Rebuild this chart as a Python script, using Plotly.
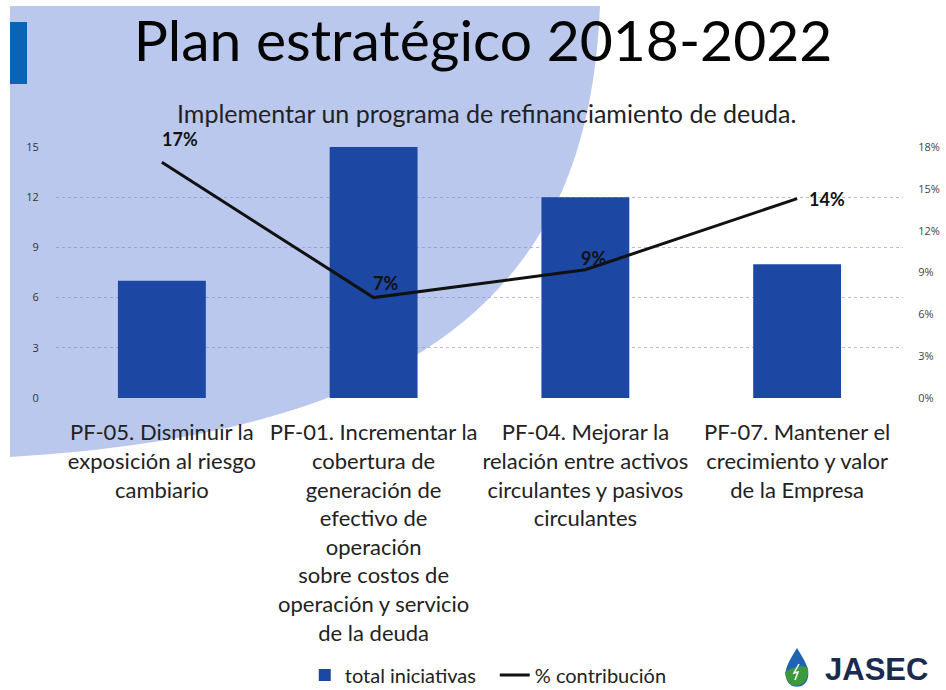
import plotly.graph_objects as go

categories = [
    "PF-05. Disminuir la<br>exposición al riesgo<br>cambiario",
    "PF-01. Incrementar la<br>cobertura de<br>generación de<br>efectivo de<br>operación<br>sobre costos de<br>operación y servicio<br>de la deuda",
    "PF-04. Mejorar la<br>relación entre activos<br>circulantes y pasivos<br>circulantes",
    "PF-07. Mantener el<br>crecimiento y valor<br>de la Empresa",
]
total_iniciativas = [7, 15, 12, 8]
pct_contribucion = [0.169, 0.072, 0.092, 0.143]
left_ticks = [0, 3, 6, 9, 12, 15]
right_ticks = [0, 0.03, 0.06, 0.09, 0.12, 0.15, 0.18]

TITLE = "Plan estratégico 2018-2022"
SUBTITLE = "Implementar un programa de refinanciamiento de deuda."

W, H = 946, 690
L, R, T, B = 56, 43, 147, 292
PW, PH = W - L - R, H - T - B

def px(x):
    return (x - L) / PW

def py(y):
    return (H - B - y) / PH

FONT = "Lato"
BAR_COLOR = "#1c47a3"
LAV = "#bbc8ee"

fig = go.Figure()
fig.add_trace(go.Bar(
    x=categories, y=total_iniciativas, name="total iniciativas",
    marker=dict(color=BAR_COLOR, line=dict(width=0)), yaxis="y",
))
fig.add_trace(go.Scatter(
    x=categories, y=pct_contribucion, name="% contribución", mode="lines",
    line=dict(color="#111111", width=3), yaxis="y2",
))

shifts = [(18, 23), (12, 15), (8, 12), (30, 0)]
for c, v, (dx, dy) in zip(categories, pct_contribucion, shifts):
    fig.add_annotation(
        x=c, y=v, xref="x", yref="y2", text=f"<b>{v:.0%}</b>", showarrow=False,
        xshift=dx, yshift=dy, font=dict(family=FONT, size=18, color="#111111"),
    )

# slide background decorations
bg_path = (f"M {px(10)},{py(6)} L {px(600)},{py(6)} "
           f"C {px(590)},{py(250)} {px(470)},{py(430)} {px(10)},{py(457)} Z")
shapes = [
    dict(type="path", path=bg_path, xref="paper", yref="paper",
         fillcolor=LAV, line=dict(width=0), layer="below"),
    dict(type="rect", x0=px(10), x1=px(27), y0=py(22), y1=py(84), xref="paper", yref="paper",
         fillcolor="#0b63b5", line=dict(width=0), layer="below"),
]
# logo drop
drop = (f"M {px(797)},{py(648)} C {px(790)},{py(660)} {px(784)},{py(668)} {px(786)},{py(677)} "
        f"C {px(788)},{py(690)} {px(806)},{py(690)} {px(808)},{py(677)} "
        f"C {px(810)},{py(668)} {px(804)},{py(660)} {px(797)},{py(648)} Z")
green = (f"M {px(785)},{py(672)} C {px(792)},{py(668)} {px(802)},{py(664)} {px(808)},{py(668)} "
         f"C {px(810)},{py(690)} {px(786)},{py(692)} {px(785)},{py(672)} Z")
bolt = (f"M {px(799)},{py(664)} L {px(794)},{py(673)} L {px(798)},{py(672)} L {px(795)},{py(680)}")
shapes += [
    dict(type="path", path=drop, xref="paper", yref="paper", fillcolor="#1f64b4", line=dict(width=0)),
    dict(type="path", path=green, xref="paper", yref="paper", fillcolor="#3c9a3c", line=dict(width=0)),
    dict(type="path", path=bolt, xref="paper", yref="paper", line=dict(color="white", width=1.5)),
]

fig.add_annotation(
    x=px(823), y=py(669), xref="paper", yref="paper", xanchor="left", yanchor="middle",
    text="<b>JASEC</b>", showarrow=False,
    font=dict(family="Liberation Sans", size=31, color="#1b2a4e"),
)
fig.add_annotation(
    x=px(486), y=py(113), xref="paper", yref="paper", xanchor="center", yanchor="middle",
    text=SUBTITLE, showarrow=False, font=dict(family=FONT, size=25, color="#222222"),
)

fig.update_layout(
    width=W, height=H,
    margin=dict(l=L, r=R, t=T, b=B, pad=0, autoexpand=False),
    paper_bgcolor="white", plot_bgcolor="rgba(0,0,0,0)",
    title=dict(text=TITLE, x=483 / W, xanchor="center", y=1 - 41 / H, yanchor="middle",
               xref="container", yref="container",
               font=dict(family=FONT, size=57, color="#050505")),
    shapes=shapes,
    bargap=0.585,
    showlegend=True,
    legend=dict(orientation="h", x=0.523, xanchor="center", xref="container",
                y=1 - 675 / H, yanchor="middle", yref="container",
                font=dict(family=FONT, size=20, color="#222222"), bgcolor="rgba(0,0,0,0)",
                itemwidth=30, entrywidth=145, entrywidthmode="pixels"),
    xaxis=dict(type="category", showgrid=False, showline=False, zeroline=False, automargin=False,
               ticks="outside", ticklen=15, tickcolor="rgba(0,0,0,0)",
               tickfont=dict(family=FONT, size=22, color="#222222")),
    yaxis=dict(range=[0, 15], tickvals=left_ticks, showgrid=True, automargin=False,
               gridcolor="rgba(130,130,200,0.55)", gridwidth=1, griddash="dot",
               zeroline=False, showline=False,
               ticks="outside", ticklen=14, tickcolor="rgba(0,0,0,0)",
               tickfont=dict(family="Open Sans", size=11, color="#333333")),
    yaxis2=dict(range=[0, 0.18], tickvals=right_ticks, tickformat=".0%", overlaying="y",
                side="right", showgrid=False, zeroline=False, showline=False, automargin=False,
                ticks="outside", ticklen=12, tickcolor="rgba(0,0,0,0)",
                tickfont=dict(family="Open Sans", size=11, color="#444444")),
)

fig.write_html("out.html", config={"displayModeBar": False},
               post_script="document.body.style.margin='0';")
